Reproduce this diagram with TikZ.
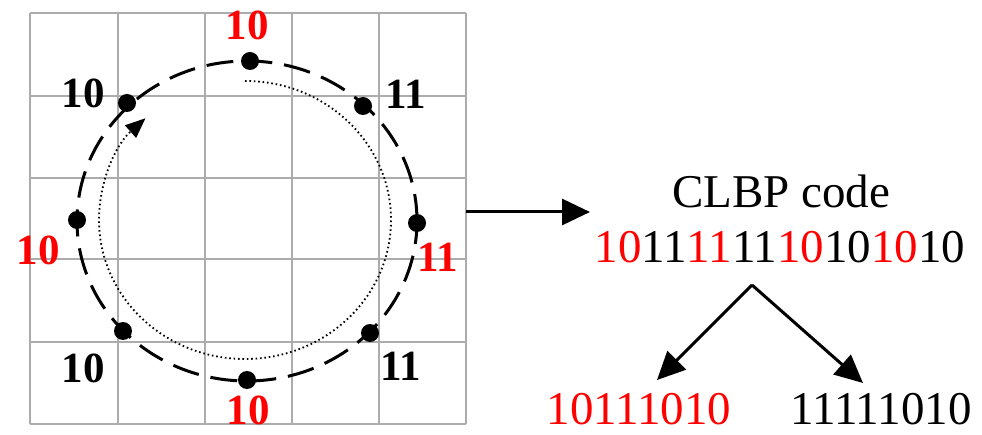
\documentclass[tikz,border=0pt]{standalone}
\usepackage{fontspec}
\setmainfont{Liberation Serif}
\usetikzlibrary{arrows.meta}
\begin{document}
\begin{tikzpicture}[x=1pt,y=1pt,
  gridline/.style={draw=gray!65,line width=2.2pt},
  ring/.style={draw=black,line width=3pt,dash pattern=on 27pt off 12pt},
  path/.style={draw=black,line width=1.8pt,dash pattern=on 1.6pt off 2.8pt},
  dot/.style={circle,fill=black,inner sep=0pt,minimum size=18pt},
  lab/.style={font=\fontsize{43}{46}\selectfont\bfseries,anchor=base,inner sep=0pt},
  txt/.style={font=\fontsize{47}{50}\selectfont,anchor=base,inner sep=0pt},
  bigarrow/.style={draw=black,line width=3pt,-{Triangle[length=28pt,width=26pt]}}
]
\useasboundingbox (0,0) rectangle (982,434);
% grid
\foreach \x in {30,118,205,292,379,466} \draw[gridline] (\x,10) -- (\x,421);
\foreach \y in {10,92,175,256,338,421} \draw[gridline] (30,\y) -- (466,\y);
% dashed ring
\coordinate (c) at (247,213);
\draw[ring] (c) ellipse[x radius=170,y radius=160];
% dotted path with arrow
\coordinate (ps) at (245,353);
\draw[path,-{Triangle[length=20pt,width=17pt,fill=black,line width=0pt]}] (ps) arc[start angle=90,end angle=-227,x radius=146,y radius=139];
% sample points
\node[dot] (p1) at (250,373) {};
\node[dot] (p2) at (363,328) {};
\node[dot] (p3) at (417,211) {};
\node[dot] (p4) at (370,101) {};
\node[dot] (p5) at (247,54) {};
\node[dot] (p6) at (123,103) {};
\node[dot] (p7) at (77,214) {};
\node[dot] (p8) at (127,331) {};
% labels
\node[lab,text=red] (l1) at (247,394) {10};
\node[lab] (l2) at (406,325) {11};
\node[lab,text=red] (l3) at (438,162) {11};
\node[lab] (l4) at (401,54) {11};
\node[lab,text=red] (l5) at (248,10) {10};
\node[lab] (l6) at (83,52) {10};
\node[lab,text=red] (l7) at (38,169) {10};
\node[lab] (l8) at (83,326) {10};
% right side
\coordinate (gridE) at (466,222);
\coordinate (arrE) at (590,222);
\draw[bigarrow] (gridE) -- (arrE);
\node[txt] (title) at (781,226) {CLBP code};
\node[txt] (code) at (780,171) {\textcolor{red}{10}11\textcolor{red}{11}11\textcolor{red}{10}10\textcolor{red}{10}10};
\coordinate (apex) at (752,149);
\node[txt,text=red] (left) at (639,10) {10111010};
\node[txt] (right) at (881,10) {11111010};
\coordinate (lt) at (657,54);
\coordinate (rt) at (863,51);
\draw[bigarrow] (apex) -- (lt);
\draw[bigarrow] (apex) -- (rt);
\end{tikzpicture}
\end{document}
